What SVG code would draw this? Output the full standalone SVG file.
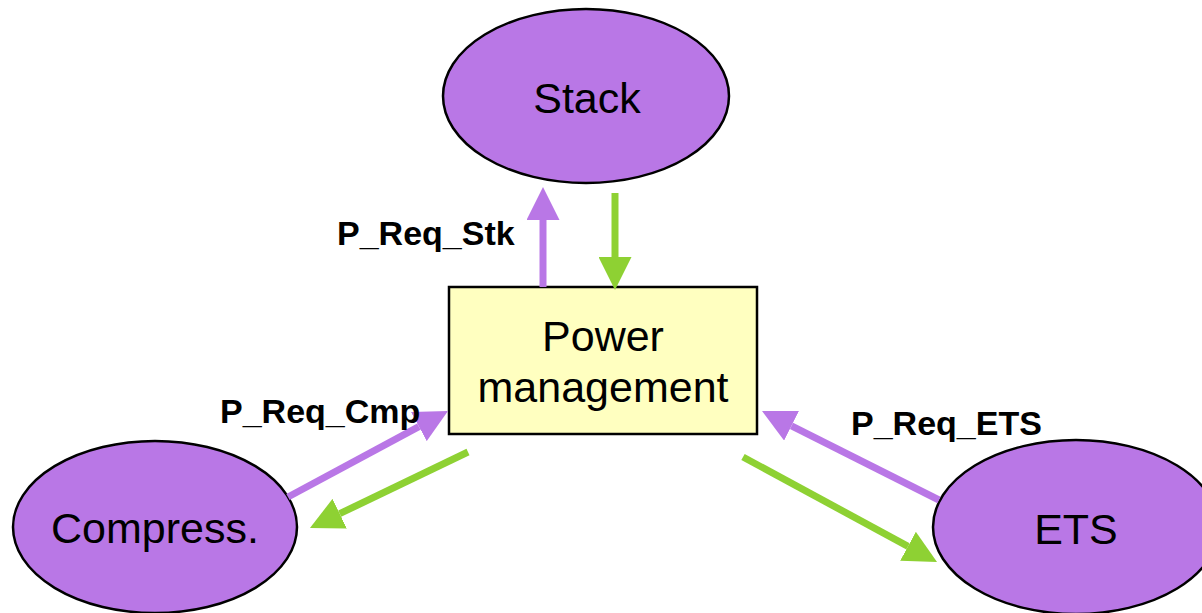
<svg xmlns="http://www.w3.org/2000/svg" width="1202" height="613" viewBox="0 0 1202 613">
  <style>
    .node-ell { fill: #B977E6; stroke: #000; stroke-width: 2.5; }
    .node-box { fill: #FFFFC0; stroke: #000; stroke-width: 2.5; }
    .title { font-family: "Liberation Sans", Arial, sans-serif; font-size: 43px; fill: #000; text-anchor: middle; }
    .label { font-family: "Liberation Sans", Arial, sans-serif; font-size: 34px; font-weight: bold; fill: #000; }
    .req { stroke: #B977E6; stroke-width: 7; fill: none; marker-end: url(#head-purple); }
    .grant { stroke: #8ED133; stroke-width: 7; fill: none; marker-end: url(#head-green); }
  </style>
  <defs>
    <marker id="head-purple" markerUnits="userSpaceOnUse" viewBox="0 0 33 33" refX="0" refY="16.5" markerWidth="33" markerHeight="33" orient="auto">
      <path d="M0,0 L33,16.5 L0,33 Z" fill="#B977E6"/>
    </marker>
    <marker id="head-green" markerUnits="userSpaceOnUse" viewBox="0 0 33 33" refX="0" refY="16.5" markerWidth="33" markerHeight="33" orient="auto">
      <path d="M0,0 L33,16.5 L0,33 Z" fill="#8ED133"/>
    </marker>
  </defs>

  <g id="stack">
    <ellipse class="node-ell" cx="586" cy="96" rx="143" ry="87"/>
    <text class="title" x="587" y="113">Stack</text>
  </g>

  <g id="power-management">
    <rect class="node-box" x="449" y="287" width="308" height="147"/>
    <text class="title" x="603" y="351">Power</text>
    <text class="title" x="603" y="402">management</text>
  </g>

  <g id="compress">
    <ellipse class="node-ell" cx="155" cy="527" rx="142" ry="86"/>
    <text class="title" x="155" y="543">Compress.</text>
  </g>

  <g id="ets">
    <ellipse class="node-ell" cx="1076" cy="527" rx="143" ry="87"/>
    <text class="title" x="1076" y="544">ETS</text>
  </g>

  <g id="connectors">
    <line class="req" x1="543" y1="287" x2="543" y2="220"/>
    <line class="grant" x1="615" y1="193" x2="615" y2="257"/>
    <line class="req" x1="288" y1="497" x2="418.9" y2="426.6"/>
    <line class="grant" x1="468" y1="452" x2="339.7" y2="513.7"/>
    <line class="req" x1="939" y1="500" x2="791.5" y2="425.8"/>
    <line class="grant" x1="743" y1="457" x2="908" y2="546.3"/>
  </g>

  <g id="labels">
    <text class="label" x="337" y="245">P_Req_Stk</text>
    <text class="label" x="220" y="423">P_Req_Cmp</text>
    <text class="label" x="851" y="435">P_Req_ETS</text>
  </g>
</svg>
